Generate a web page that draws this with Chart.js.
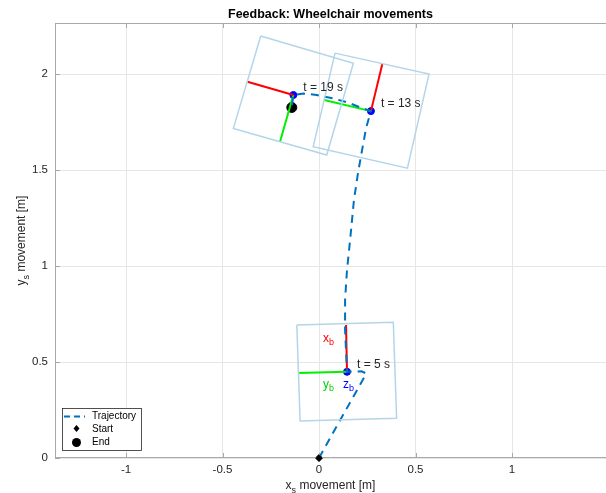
<!DOCTYPE html>
<html>
<head>
<meta charset="utf-8">
<script src="https://cdn.jsdelivr.net/npm/chart.js@4.4.1/dist/chart.umd.min.js"></script>
<style>
  html, body { margin: 0; padding: 0; background: #fff; }
  #wrap { width: 606px; height: 493px; }
</style>
</head>
<body>
<div id="wrap"><canvas id="chart" width="606" height="493"></canvas></div>
<script>
// axis ticks
const xTicks = [-1, -0.5, 0, 0.5, 1];
const yTicks = [0, 0.5, 1, 1.5, 2];

// trajectory
const trajX = [0, 0.125, 0.245, 0.22, 0.145, 0.135, 0.135, 0.145, 0.161, 0.181, 0.202, 0.223, 0.244, 0.269,
               0.212, 0.152, 0.074, -0.012, -0.081, -0.133, -0.141];
const trajY = [0, 0.225, 0.44, 0.452, 0.449, 0.667, 0.823, 0.979, 1.135, 1.344, 1.484, 1.604, 1.719, 1.807,
               1.827, 1.851, 1.873, 1.891, 1.899, 1.891, 1.826];

// snapshots: time, position, body frame axis tips
const snapT = [5, 13, 19];
const snapX = [0.145, 0.269, -0.133];
const snapY = [0.449, 1.807, 1.891];
const xbTipX = [0.140, 0.328, -0.371];
const xbTipY = [0.693, 2.052, 1.960];
const ybTipX = [-0.109, 0.027, -0.202];
const ybTipY = [0.443, 1.865, 1.647];

// wheelchair footprint corners per snapshot (TL, TR, BR, BL)
const box5X = [-0.115, 0.385, 0.402, -0.098];
const box5Y = [0.693, 0.707, 0.207, 0.193];
const box13X = [0.083, 0.570, 0.458, -0.030];
const box13Y = [2.109, 2.000, 1.510, 1.622];
const box19X = [-0.302, 0.178, 0.040, -0.444];
const box19Y = [2.198, 2.056, 1.578, 1.717];

const startPt = [0, 0];
const endPt = [-0.141, 1.826];

const pts = (xs, ys) => xs.map((x, i) => ({ x: x, y: ys[i] }));
const closed = (xs, ys) => pts(xs.concat([xs[0]]), ys.concat([ys[0]]));

const boxStyle = { showLine: true, borderColor: '#b3d5ea', borderWidth: 1.5, pointRadius: 0, fill: false };

const datasets = [
    Object.assign({ label: 'box5', data: closed(box5X, box5Y) }, boxStyle),
    Object.assign({ label: 'box13', data: closed(box13X, box13Y) }, boxStyle),
    Object.assign({ label: 'box19', data: closed(box19X, box19Y) }, boxStyle),
    {
        label: 'Trajectory', data: pts(trajX, trajY), showLine: true,
        borderColor: '#0072BD', borderWidth: 2, borderDash: [8, 6], pointRadius: 0, tension: 0
    }
];
snapT.forEach((t, i) => {
    datasets.push({
        label: 'xb' + t, data: [{ x: snapX[i], y: snapY[i] }, { x: xbTipX[i], y: xbTipY[i] }],
        showLine: true, borderColor: '#ff0000', borderWidth: 2, pointRadius: 0
    });
    datasets.push({
        label: 'yb' + t, data: [{ x: snapX[i], y: snapY[i] }, { x: ybTipX[i], y: ybTipY[i] }],
        showLine: true, borderColor: '#00f000', borderWidth: 2, pointRadius: 0
    });
});
datasets.push({
    label: 'snapshots', data: pts(snapX, snapY), showLine: false,
    pointRadius: 3.5, backgroundColor: '#0000ff', borderColor: '#0000ff'
});
datasets.push({
    label: 'Start', data: [{ x: startPt[0], y: startPt[1] }], pointStyle: 'rectRot', clip: false,
    pointRadius: 3.5, backgroundColor: '#000', borderColor: '#000'
});
datasets.push({
    label: 'End', data: [{ x: endPt[0], y: endPt[1] }],
    pointRadius: 5, backgroundColor: '#000', borderColor: '#000'
});

const FONT = '"Liberation Sans", Arial, sans-serif';
const TXT = '#262626';
const AXIS = '#a8a8a8';

// draw text with a subscript part
function subText(ctx, x, y, main, sub, rest, size, color, align) {
    ctx.save();
    ctx.fillStyle = color;
    ctx.textBaseline = 'alphabetic';
    ctx.font = size + 'px ' + FONT;
    const w1 = ctx.measureText(main).width;
    ctx.font = (size * 0.75) + 'px ' + FONT;
    const w2 = ctx.measureText(sub).width;
    ctx.font = size + 'px ' + FONT;
    const w3 = ctx.measureText(rest).width;
    const total = w1 + w2 + w3;
    let x0 = align === 'center' ? x - total / 2 : x;
    ctx.textAlign = 'left';
    ctx.fillText(main, x0, y);
    ctx.font = (size * 0.75) + 'px ' + FONT;
    ctx.fillText(sub, x0 + w1, y + size * 0.3);
    ctx.font = size + 'px ' + FONT;
    ctx.fillText(rest, x0 + w1 + w2, y);
    ctx.restore();
}

const overlay = {
    id: 'overlay',
    afterDraw(chart) {
        const ctx = chart.ctx;
        const a = chart.chartArea;
        const xs = chart.scales.x, ys = chart.scales.y;

        // axis lines and inward ticks
        ctx.save();
        ctx.strokeStyle = AXIS;
        ctx.lineWidth = 1;
        ctx.beginPath();
        ctx.moveTo(a.left + 0.5, a.top); ctx.lineTo(a.left + 0.5, a.bottom);
        ctx.moveTo(a.left, a.bottom - 0.5); ctx.lineTo(a.right, a.bottom - 0.5);
        ctx.moveTo(a.left, a.top + 0.5); ctx.lineTo(a.right, a.top + 0.5);
        xTicks.forEach(v => {
            const px = Math.round(xs.getPixelForValue(v)) + 0.5;
            ctx.moveTo(px, a.bottom); ctx.lineTo(px, a.bottom - 5);
            ctx.moveTo(px, a.top); ctx.lineTo(px, a.top + 5);
        });
        yTicks.forEach(v => {
            const py = Math.round(ys.getPixelForValue(v)) + 0.5;
            ctx.moveTo(a.left, py); ctx.lineTo(a.left + 5, py);
        });
        ctx.stroke();
        ctx.restore();

        // start marker drawn again over the axis line
        ctx.save();
        const sx = xs.getPixelForValue(startPt[0]), sy = ys.getPixelForValue(startPt[1]);
        ctx.fillStyle = '#000';
        ctx.beginPath();
        ctx.moveTo(sx, sy - 3.5); ctx.lineTo(sx + 3.5, sy); ctx.lineTo(sx, sy + 3.5); ctx.lineTo(sx - 3.5, sy);
        ctx.closePath(); ctx.fill();
        ctx.restore();

        // title
        ctx.save();
        ctx.fillStyle = '#000';
        ctx.font = 'bold 12.5px ' + FONT;
        ctx.textAlign = 'center';
        ctx.fillText('Feedback: Wheelchair movements', (a.left + a.right) / 2, 18);
        ctx.restore();

        // axis titles
        subText(ctx, (a.left + a.right) / 2, 489, 'x', 's', ' movement [m]', 12, TXT, 'center');
        ctx.save();
        ctx.translate(25, (a.top + a.bottom) / 2);
        ctx.rotate(-Math.PI / 2);
        subText(ctx, 0, 0, 'y', 's', ' movement [m]', 12, TXT, 'center');
        ctx.restore();

        // snapshot labels
        ctx.save();
        ctx.font = '12px ' + FONT;
        ctx.fillStyle = TXT;
        snapT.forEach((t, i) => {
            const px = xs.getPixelForValue(snapX[i]);
            const py = ys.getPixelForValue(snapY[i]);
            ctx.fillText('t = ' + t + ' s', px + 10, py - 4);
        });
        ctx.restore();

        // body frame labels at t = 5 s
        const bx = xs.getPixelForValue(snapX[0]);
        const by = ys.getPixelForValue(snapY[0]);
        subText(ctx, bx - 24, by - 30, 'x', 'b', '', 12, '#ff0000', 'left');
        subText(ctx, bx - 24, by + 16, 'y', 'b', '', 12, '#00d000', 'left');
        subText(ctx, bx - 4, by + 16, 'z', 'b', '', 12, '#0000ff', 'left');

        // legend
        ctx.save();
        const lx = 62, ly = 408, lw = 79, lh = 42;
        ctx.fillStyle = '#fff';
        ctx.fillRect(lx, ly, lw, lh);
        ctx.strokeStyle = TXT;
        ctx.lineWidth = 0.8;
        ctx.strokeRect(lx + 0.5, ly + 0.5, lw, lh);
        ctx.strokeStyle = '#0072BD';
        ctx.lineWidth = 2;
        ctx.setLineDash([6, 4]);
        ctx.beginPath();
        ctx.moveTo(64, 416.5); ctx.lineTo(85, 416.5);
        ctx.stroke();
        ctx.setLineDash([]);
        ctx.fillStyle = '#000';
        ctx.beginPath();
        ctx.moveTo(76.5, 425); ctx.lineTo(79.5, 428.5); ctx.lineTo(76.5, 432); ctx.lineTo(73.5, 428.5);
        ctx.closePath(); ctx.fill();
        ctx.beginPath();
        ctx.arc(76.5, 442.5, 4.5, 0, Math.PI * 2);
        ctx.fill();
        ctx.font = '10px ' + FONT;
        ctx.textBaseline = 'middle';
        ctx.fillText('Trajectory', 92, 416.5);
        ctx.fillText('Start', 92, 429);
        ctx.fillText('End', 92, 442.5);
        ctx.restore();
    }
};

new Chart(document.getElementById('chart'), {
    type: 'scatter',
    data: { datasets: datasets },
    options: {
        responsive: false,
        animation: false,
        layout: { autoPadding: false, padding: { top: 23, right: 0, left: 0, bottom: 0 } },
        plugins: { legend: { display: false }, tooltip: { enabled: false } },
        elements: { line: { tension: 0 } },
        scales: {
            x: {
                type: 'linear', min: -1.368, max: 1.487,
                afterBuildTicks: s => { s.ticks = xTicks.map(v => ({ value: v })); },
                afterFit: s => { s.height = 35; s.paddingLeft = 0; s.paddingRight = 0; },
                grid: { color: '#e6e6e6', drawTicks: false },
                border: { display: false },
                ticks: { padding: 5, color: TXT, font: { family: FONT, size: 11.5 }, callback: v => String(v) }
            },
            y: {
                type: 'linear', min: 0, max: 2.266,
                afterBuildTicks: s => { s.ticks = yTicks.map(v => ({ value: v })); },
                afterFit: s => { s.width = 55; s.paddingTop = 0; s.paddingBottom = 0; },
                grid: { color: '#e6e6e6', drawTicks: false },
                border: { display: false },
                ticks: { padding: 7, color: TXT, font: { family: FONT, size: 11.5 }, callback: v => String(v) }
            }
        }
    },
    plugins: [overlay]
});
</script>
</body>
</html>
